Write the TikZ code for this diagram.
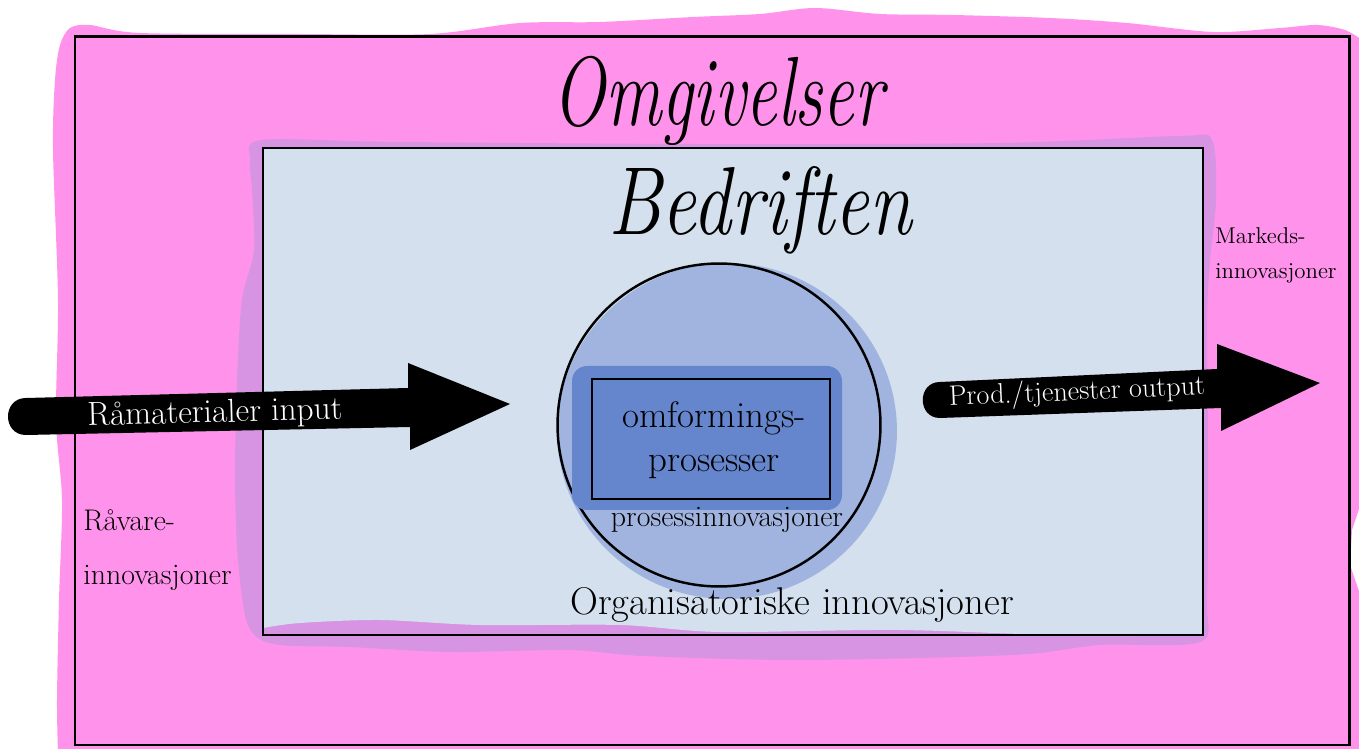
\documentclass[tikz,border=0pt]{standalone}
\usepackage{fontspec}
\definecolor{pinkc}{RGB}{255,147,235}
\definecolor{lavc}{RGB}{214,148,226}
\definecolor{lightb}{RGB}{212,224,237}
\definecolor{circb}{RGB}{160,180,223}
\definecolor{rectb}{RGB}{101,134,204}
\begin{document}
\begin{tikzpicture}[x=0.02cm,y=-0.02cm,
  lbl/.style={inner sep=0pt},
  title/.style={lbl, font=\fontsize{#1}{#1}\selectfont\itshape},
  hand/.style={lbl, font=\fontsize{#1}{#1}\selectfont},
  blockarrow/.style={fill=black}]
\useasboundingbox (0,0) rectangle (1359,749);
\fill[white] (0,0) rectangle (1359,749);
% pink painted background
\fill[pinkc] plot[smooth, tension=0.5] coordinates {
 (58,752) (57,700) (59,600) (62,500) (56,420) (58,300) (53,150) (55,80) (60,45)
 (70,28) (90,25) (140,33) (300,34) (430,34) (520,23) (600,22) (693,17)
 (760,14) (815,8) (880,14) (953,15) (1050,18) (1127,23) (1213,32) (1280,28)
 (1317,25) (1345,30) (1362,40)}
 -- (1362,500) -- (1352,530) -- (1350,565) -- (1362,600) -- (1362,752) -- cycle;
% lavender paint round the company box
\fill[lavc] plot[smooth cycle, tension=0.5] coordinates {
 (250,160) (262,140) (400,142) (700,144) (1000,143) (1180,136) (1212,140)
 (1216,200) (1210,260) (1207,320) (1208,450) (1207,600) (1200,642) (1100,645)
 (1013,655) (800,660) (643,656) (570,650) (450,652) (350,647) (274,644)
 (248,625) (238,560) (235,480) (237,380) (242,300) (254,250) (252,190)};
% light blue interior
\fill[lightb] (263,148) -- (1203,148) -- (1203,635) -- plot[smooth, tension=0.5] coordinates {
 (1203,635) (1080,636) (900,630) (720,632) (620,625) (480,625) (380,620) (300,623) (263,628)} -- cycle;
% frames
\draw[line width=1.7pt] (75,37) rectangle (1349,745);
\draw[line width=1.5pt] (263,148) rectangle (1203,635);
% circle with paint
\fill[circb] (727,431) ellipse [x radius=3.40cm, y radius=3.36cm];
\draw[line width=1.4pt] (719,425) circle [radius=3.23cm];
% inner process box with paint
\fill[rectb, rounded corners=0.3cm] (572,366) rectangle (842,510);
\draw[fill=rectb, line width=0.9pt] (592,379) rectangle (830,499);
% block arrows
\fill[blockarrow] (26,398) -- (408,388) -- (408,363) -- (510,404) -- (410,450)
  -- (410,427) -- (26,435) .. controls (2,435) and (2,398) .. (26,398) -- cycle;
\fill[blockarrow] (940,382) -- (1217,369) -- (1217,344) -- (1320,383) -- (1221,431)
  -- (1221,408) -- (940,418) .. controls (917,418) and (917,382) .. (940,382) -- cycle;
% texts
\node[title=40] (omg) at (718,101) {\scalebox{1}[1.4]{Omgivelser}};
\node[title=44] (bed) at (760,210) {\scalebox{1}[1.25]{Bedriften}};
\node[hand=21, align=center, font=\fontsize{21}{25}\selectfont] (omf) at (714,440) {omformings-\\prosesser};
\node[hand=17] (pinn) at (727,520) {prosessinnovasjoner};
\node[hand=22] (org) at (792,605) {Organisatoriske innovasjoner};
\node[hand=19, white, rotate=1.5] (inp) at (215,414) {Råmaterialer input};
\node[hand=16, white, rotate=2.5] (outp) at (1077,393) {Prod./tjenester output};
\node[hand=17, align=left, anchor=west, font=\fontsize{17}{31}\selectfont] (rav) at (83,550) {Råvare-\\innovasjoner};
\node[hand=13, align=left, anchor=west, font=\fontsize{13}{20}\selectfont] (mark) at (1215,255) {Markeds-\\innovasjoner};
\end{tikzpicture}
\end{document}
